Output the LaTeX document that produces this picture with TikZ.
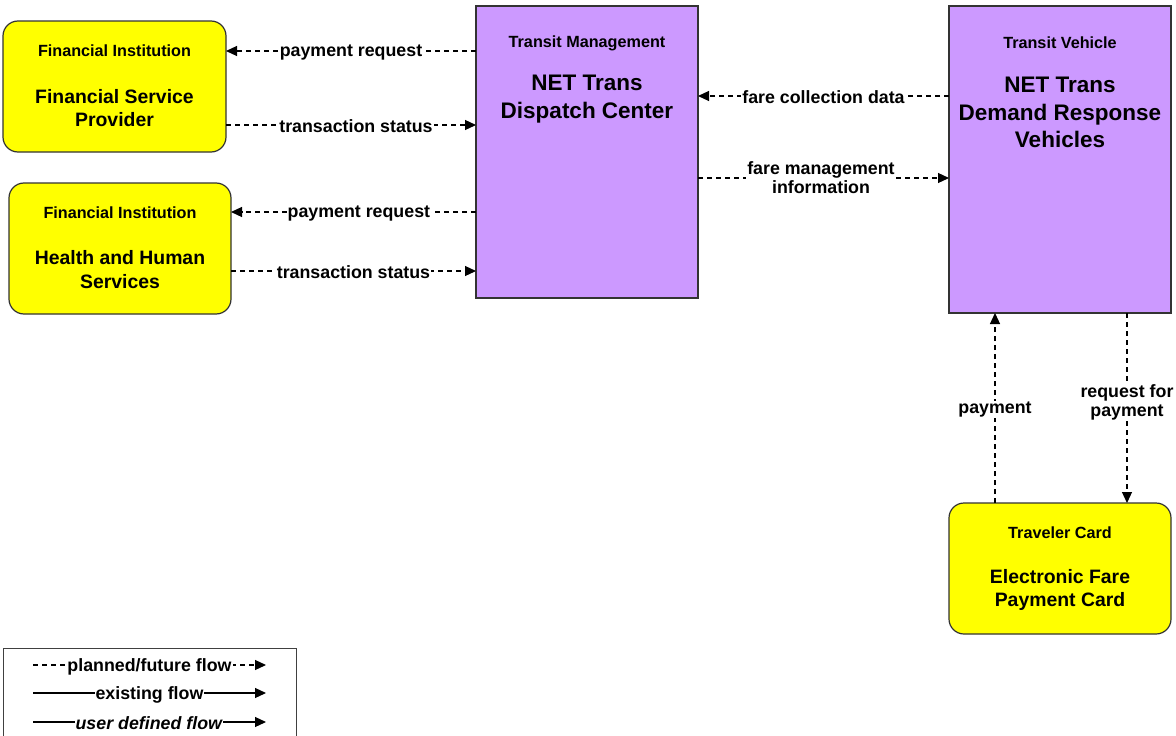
\documentclass[tikz,border=0pt]{standalone}
\usepackage{fontspec}
\setmainfont{Liberation Sans}
\usetikzlibrary{arrows.meta}
\definecolor{boxyellow}{RGB}{255,255,0}
\definecolor{boxpurple}{RGB}{204,153,255}
\tikzset{
  ybox/.style={draw=black!80, line width=1.2pt, fill=boxyellow, rounded corners=15pt, outer sep=0pt, inner sep=0pt},
  pbox/.style={draw=black!80, line width=1.2pt, fill=boxpurple, outer sep=0pt, inner sep=0pt},
  small/.style={font=\fontsize{16.2}{19}\selectfont\bfseries, align=center, inner sep=0pt},
  big/.style={font=\fontsize{19.4}{23.5}\selectfont\bfseries, align=center, inner sep=0pt},
  bigp/.style={font=\fontsize{22.5}{27.5}\selectfont\bfseries, align=center, inner sep=0pt},
  flow/.style={line width=1.2pt, dash pattern=on 5pt off 4pt, -{Triangle[length=11pt,width=10pt]}},
  solidflow/.style={line width=1.2pt, -{Triangle[length=11pt,width=10pt]}},
  lbl/.style={font=\fontsize{17.8}{21}\selectfont\bfseries, fill=white, inner xsep=1pt, inner ysep=1pt, align=center, yshift=-1.5pt},
}
\begin{document}
\begin{tikzpicture}[x=1pt,y=-1pt]
\useasboundingbox (0,0) rectangle (1176,736);
% boxes
\node[ybox, minimum width=223, minimum height=131] (fsp) at (114.5,86.5) {};
\node[ybox, minimum width=222, minimum height=131] (hhs) at (120,248.5) {};
\node[pbox, minimum width=222, minimum height=292] (disp) at (587,152) {};
\node[pbox, minimum width=222, minimum height=307] (veh) at (1060,159.5) {};
\node[ybox, minimum width=222, minimum height=131] (card) at (1060,568.5) {};
% box texts
\node[small] (fspa) at (114.5,51) {Financial Institution};
\node[big] (fspb) at (114.5,108) {Financial Service\\Provider};
\node[small] (hhsa) at (120,213) {Financial Institution};
\node[big] (hhsb) at (120,269.5) {Health and Human\\Services};
\node[small] (dispa) at (587,43) {Transit Management};
\node[bigp] (dispb) at (587,99) {NET Trans\\Dispatch Center};
\node[small] (veha) at (1060,43) {Transit Vehicle};
\node[bigp] (vehb) at (1060,112.5) {NET Trans\\Demand Response\\Vehicles};
\node[small] (carda) at (1060,533) {Traveler Card};
\node[big] (cardb) at (1060,590) {Electronic Fare\\Payment Card};
% flows
\draw[flow] (disp.west |- 0,51) -- node[lbl, pos=0.5] {payment request} (fsp.east |- 0,51);
\draw[flow] (fsp.east |- 0,125) -- node[lbl, pos=0.52] {transaction status} (disp.west |- 0,125);
\draw[flow] (disp.west |- 0,212) -- node[lbl, pos=0.478] {payment request} (hhs.east |- 0,212);
\draw[flow] (hhs.east |- 0,271) -- node[lbl, pos=0.5] {transaction status} (disp.west |- 0,271);
\draw[flow] (veh.west |- 0,96) -- node[lbl, pos=0.5] {fare collection data} (disp.east |- 0,96);
\draw[flow] (disp.east |- 0,178) -- node[lbl, pos=0.49, yshift=1.5pt] {fare management\\[-2pt]information} (veh.west |- 0,178);
\draw[flow] (card.north -| 995,0) -- node[lbl, pos=0.5] {payment} (veh.south -| 995,0);
\draw[flow] (veh.south -| 1127,0) -- node[lbl, pos=0.47, yshift=1.5pt] {request for\\[-2pt]payment} (card.north -| 1127,0);
% legend
\draw[line width=1pt, draw=black!75] (3,745) -- (3,648) -- (296,648) -- (296,745);
\coordinate (l1a) at (33,665); \coordinate (l1b) at (266,665);
\coordinate (l2a) at (33,693); \coordinate (l2b) at (266,693);
\coordinate (l3a) at (33,722); \coordinate (l3b) at (266,722);
\draw[flow] (l1a) -- node[lbl, pos=0.5] {planned/future flow} (l1b);
\draw[solidflow] (l2a) -- node[lbl, pos=0.5] {existing flow} (l2b);
\draw[solidflow] (l3a) -- node[lbl, pos=0.497, font=\fontsize{17.8}{21}\selectfont\bfseries\itshape] {user defined flow} (l3b);
\end{tikzpicture}
\end{document}
